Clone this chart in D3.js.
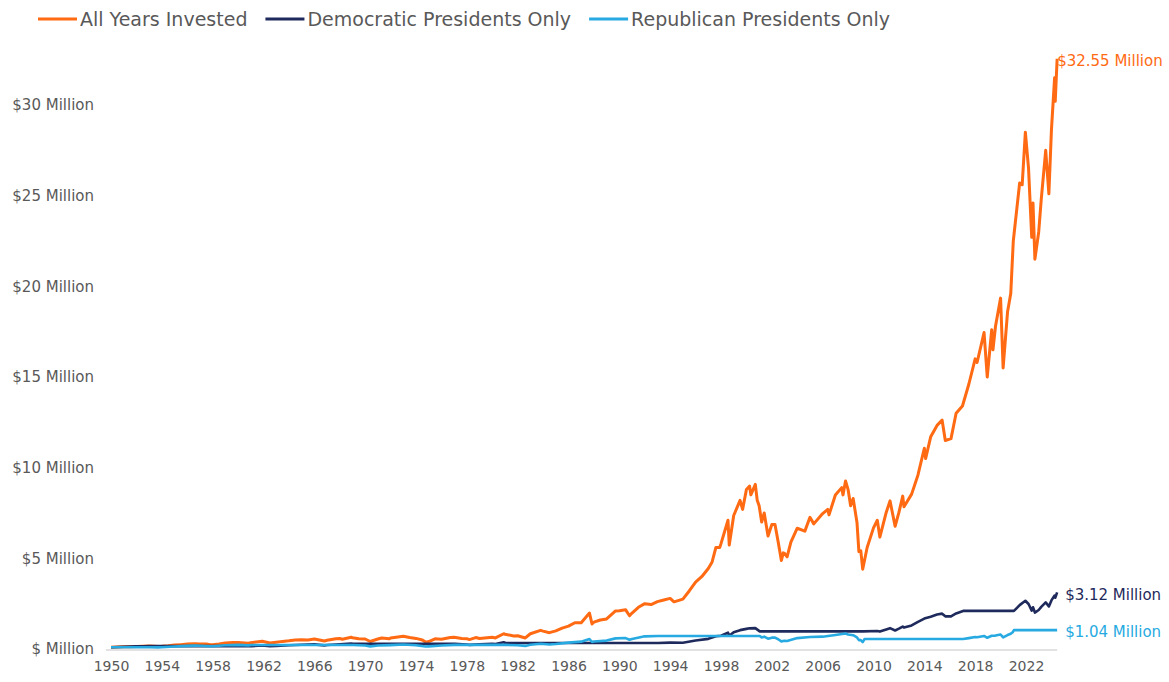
<!DOCTYPE html>
<html>
<head>
<meta charset="utf-8">
<script src="https://cdn.jsdelivr.net/npm/d3@7"></script>
<style>
  body { margin: 0; background: #fff; }
  text { font-family: "DejaVu Sans", sans-serif; }
</style>
</head>
<body>
<div id="chart"></div>
<script>
(function () {

/* data: [year, value in $ million] */
  var allYears = [
    [1950.0,0.10],[1950.5,0.11],[1951.0,0.122],[1951.5,0.13],[1952.0,0.143],[1952.5,0.15],[1953.0,0.159],[1953.7,0.138],
    [1954.0,0.148],[1954.5,0.175],[1955.0,0.215],[1955.5,0.24],[1956.0,0.272],[1956.6,0.296],[1957.0,0.28],[1957.5,0.28],
    [1957.8,0.24],[1958.0,0.239],[1958.5,0.28],[1959.0,0.331],[1959.6,0.36],[1960.0,0.359],[1960.8,0.32],[1961.0,0.348],
    [1961.9,0.431],[1962.5,0.328],[1963.0,0.378],[1963.5,0.42],[1964.0,0.45],[1964.5,0.49],[1965.0,0.508],[1965.5,0.5],
    [1966.0,0.553],[1966.8,0.443],[1967.0,0.481],[1967.7,0.57],[1968.0,0.578],[1968.2,0.54],[1968.9,0.647],[1969.0,0.622],
    [1969.5,0.56],[1970.0,0.551],[1970.4,0.415],[1971.0,0.552],[1971.3,0.61],[1971.9,0.56],[1972.0,0.611],[1973.0,0.707],
    [1973.5,0.63],[1974.0,0.584],[1974.5,0.5],[1974.75,0.38],[1975.0,0.41],[1975.5,0.56],[1976.0,0.54],[1976.7,0.63],
    [1977.0,0.644],[1977.6,0.58],[1978.0,0.569],[1978.2,0.52],[1978.7,0.63],[1979.0,0.575],[1979.8,0.64],[1980.0,0.646],
    [1980.25,0.61],[1980.9,0.84],[1981.0,0.813],[1981.7,0.72],[1982.0,0.734],[1982.6,0.61],[1983.0,0.842],[1983.8,1.03],
    [1984.0,0.987],[1984.5,0.9],[1985.0,1.0],[1985.5,1.15],[1986.0,1.265],[1986.5,1.45],[1987.0,1.45],[1987.65,1.98],
    [1987.85,1.38],[1988.0,1.48],[1988.5,1.6],[1989.0,1.66],[1989.7,2.1],[1990.0,2.11],[1990.5,2.16],[1990.8,1.83],
    [1991.0,1.98],[1991.5,2.3],[1992.0,2.5],[1992.5,2.45],[1993.0,2.61],[1993.5,2.7],[1994.0,2.79],[1994.3,2.6],
    [1995.0,2.75],[1995.5,3.2],[1996.0,3.69],[1996.5,4.0],[1997.0,4.44],[1997.3,4.8],[1997.6,5.6],[1997.9,5.6],
    [1998.0,5.81],[1998.55,7.1],[1998.65,5.73],[1999.0,7.36],[1999.5,8.2],[1999.7,7.7],[2000.0,8.8],[2000.25,8.98],
    [2000.35,8.5],[2000.7,9.08],[2000.85,8.2],[2001.0,7.9],[2001.2,7.0],[2001.4,7.5],[2001.7,6.23],[2002.0,6.87],
    [2002.25,6.87],[2002.5,5.9],[2002.75,4.88],[2002.9,5.3],[2003.0,5.27],[2003.2,5.08],[2003.5,5.9],[2004.0,6.66],
    [2004.6,6.5],[2005.0,7.26],[2005.3,6.9],[2006.0,7.47],[2006.4,7.7],[2006.5,7.4],[2007.0,8.49],[2007.5,8.9],
    [2007.6,8.5],[2007.8,9.27],[2008.0,8.79],[2008.2,7.9],[2008.4,8.3],[2008.7,6.98],[2008.85,5.37],[2009.0,5.41],
    [2009.15,4.4],[2009.5,5.6],[2010.0,6.68],[2010.3,7.1],[2010.5,6.17],[2011.0,7.53],[2011.3,8.17],[2011.7,6.77],
    [2012.0,7.53],[2012.3,8.43],[2012.4,7.84],[2013.0,8.54],[2013.5,9.6],[2014.0,11.07],[2014.1,10.5],[2014.5,11.7],
    [2015.0,12.33],[2015.4,12.62],[2015.65,11.5],[2016.1,11.6],[2016.5,13.0],[2017.0,13.4],[2017.5,14.6],[2018.0,16.0],
    [2018.15,15.8],[2018.7,17.45],[2018.95,15.0],[2019.3,17.6],[2019.4,16.5],[2019.6,17.8],[2020.0,19.35],[2020.2,15.5],
    [2020.55,18.6],[2020.8,19.6],[2021.0,22.5],[2021.5,25.7],[2021.7,25.6],[2021.95,28.5],[2022.2,26.5],[2022.45,22.7],
    [2022.55,24.6],[2022.7,21.5],[2023.0,23.0],[2023.2,24.8],[2023.55,27.5],[2023.8,25.1],[2024.0,28.6],[2024.25,31.5],
    [2024.3,30.2],[2024.45,32.55]
  ];

  var demOnly = [
    [1950.0,0.1],[1950.5,0.11],[1951.0,0.122],[1951.5,0.13],[1952.0,0.143],[1952.5,0.15],[1953.05,0.159],[1961.05,0.159],
    [1961.9,0.197],[1962.5,0.15],[1963.0,0.173],[1964.0,0.206],[1965.0,0.232],[1966.0,0.253],[1966.8,0.202],[1967.0,0.22],
    [1968.0,0.264],[1968.9,0.296],[1969.05,0.284],[1977.05,0.284],[1978.0,0.251],[1978.2,0.229],[1979.0,0.254],[1980.0,0.285],
    [1980.25,0.269],[1980.9,0.37],[1981.05,0.33],[1993.05,0.33],[1994.0,0.353],[1995.0,0.348],[1996.0,0.466],[1997.0,0.56],
    [1997.6,0.70],[1998.0,0.735],[1998.55,0.9],[1998.65,0.73],[1999.0,0.93],[1999.5,1.04],[2000.0,1.11],[2000.25,1.14],
    [2000.7,1.15],[2001.05,0.97],[2009.2,0.97],[2010.3,0.99],[2010.5,0.96],[2011.0,1.08],[2011.3,1.15],[2011.7,1.02],
    [2012.0,1.12],[2012.3,1.24],[2012.4,1.18],[2013.0,1.3],[2013.5,1.5],[2014.0,1.68],[2014.5,1.78],[2015.0,1.9],
    [2015.4,1.95],[2015.65,1.8],[2016.1,1.8],[2016.5,1.96],[2017.05,2.1],[2021.05,2.1],[2021.5,2.42],[2021.95,2.66],
    [2022.2,2.48],[2022.45,2.12],[2022.55,2.3],[2022.7,2.01],[2023.0,2.15],[2023.2,2.32],[2023.55,2.57],[2023.8,2.35],
    [2024.0,2.68],[2024.25,2.95],[2024.3,2.83],[2024.45,3.12]
  ];

  var repOnly = [
    [1950.0,0.1],[1953.05,0.1],[1953.7,0.087],[1954.0,0.093],[1955.0,0.135],[1956.0,0.171],[1956.6,0.186],[1957.0,0.176],
    [1957.8,0.151],[1958.0,0.15],[1959.0,0.208],[1960.0,0.226],[1960.8,0.201],[1961.05,0.219],[1969.05,0.219],[1970.0,0.194],
    [1970.4,0.146],[1971.0,0.194],[1972.0,0.215],[1973.0,0.249],[1974.0,0.206],[1974.75,0.134],[1975.0,0.144],[1976.0,0.19],
    [1977.05,0.227],[1981.05,0.227],[1982.0,0.205],[1982.6,0.17],[1983.0,0.235],[1983.8,0.288],[1984.5,0.251],[1985.0,0.279],
    [1986.0,0.353],[1987.0,0.405],[1987.65,0.553],[1987.85,0.385],[1988.0,0.413],[1989.0,0.464],[1989.7,0.586],[1990.5,0.603],
    [1990.8,0.511],[1991.0,0.553],[1992.0,0.698],[1993.05,0.72],[2001.05,0.72],[2001.2,0.64],[2001.4,0.68],[2001.7,0.568],
    [2002.0,0.626],[2002.25,0.626],[2002.5,0.54],[2002.75,0.42],[2003.0,0.45],[2003.2,0.44],[2004.0,0.6],[2005.0,0.66],
    [2006.0,0.68],[2007.0,0.77],[2007.8,0.85],[2008.0,0.80],[2008.4,0.76],[2008.7,0.64],[2008.85,0.49],[2009.0,0.49],
    [2009.15,0.38],[2009.3,0.55],[2017.05,0.55],[2017.5,0.6],[2018.0,0.66],[2018.15,0.65],[2018.7,0.72],[2018.95,0.62],
    [2019.3,0.73],[2019.6,0.74],[2020.0,0.8],[2020.2,0.64],[2020.55,0.77],[2020.8,0.84],[2020.95,0.92],[2021.05,1.04],
    [2024.45,1.04]
  ];

  var seriesNames = ["All Years Invested", "Democratic Presidents Only", "Republican Presidents Only"];
  var endLabels = ["$32.55 Million", "$3.12 Million", "$1.04 Million"];
  var yearTicks = d3.range(1950, 2023, 4);
  var valueTicks = [0, 5, 10, 15, 20, 25, 30];
  var valueTickLabels = ["$ Million", "$5 Million", "$10 Million", "$15 Million", "$20 Million", "$25 Million", "$30 Million"];

/* preperation */
  var width = 1169,
      height = 682;

  var colors = ["#ff6a13", "#1f2a5c", "#27aae1"];
  var textColor = "#595959";

  var svg = d3.select("#chart")
    .append("svg")
    .attr("width", width)
    .attr("height", height)

  //scales
  var x = d3.scaleLinear().domain([1950, 2022]).range([111, 1026])
  var y = d3.scaleLinear().domain([0, 30]).range([649, 105])

  var line = d3.line()
    .x(function (d) { return x(d[0]) })
    .y(function (d) { return y(d[1]) })

  var series = [allYears, demOnly, repOnly].map(function (values, i) {
    return { name: seriesNames[i], values: values, color: colors[i], label: endLabels[i] }
  })

  //baseline
  svg.append("line")
    .attr("x1", x(1949.6))
    .attr("x2", x(2024.45))
    .attr("y1", y(0) + 1)
    .attr("y2", y(0) + 1)
    .attr("stroke", "#d9d9d9")
    .attr("stroke-width", 1.5)

  //y axis, labels only
  var yAxis = d3.axisLeft(y)
    .tickValues(valueTicks)
    .tickSize(0)
    .tickPadding(0)
    .tickFormat(function (d, i) { return valueTickLabels[i] })

  svg.append("g")
    .attr("transform", "translate(94,0)")
    .call(yAxis)
    .call(function (g) { g.select(".domain").remove() })
    .selectAll("text")
    .attr("fill", textColor)
    .style("font-size", "15px")
    .style("font-family", "'DejaVu Sans', sans-serif")

  //x axis, labels only
  var xAxis = d3.axisBottom(x)
    .tickValues(yearTicks)
    .tickSize(0)
    .tickPadding(0)
    .tickFormat(d3.format("d"))

  svg.append("g")
    .attr("transform", "translate(0,661)")
    .call(xAxis)
    .call(function (g) { g.select(".domain").remove() })
    .selectAll("text")
    .attr("fill", textColor)
    .style("font-size", "14px")
    .style("font-family", "'DejaVu Sans', sans-serif")

  //lines
  svg.selectAll(".series")
    .data(series)
    .enter().append("path")
    .attr("class", "series")
    .attr("d", function (d) { return line(d.values) })
    .attr("fill", "none")
    .attr("stroke", function (d) { return d.color })
    .attr("stroke-width", function (d, i) { return i === 0 ? 3 : 2.6 })
    .attr("stroke-linejoin", "round")

  //end labels
  svg.selectAll(".end-label")
    .data(series)
    .enter().append("text")
    .attr("class", "end-label")
    .attr("x", function (d, i) {
      var last = d.values[d.values.length - 1]
      return x(last[0]) + (i === 0 ? 0 : 8)
    })
    .attr("y", function (d) {
      var last = d.values[d.values.length - 1]
      return y(last[1]) + 2
    })
    .attr("dy", "0.35em")
    .attr("fill", function (d) { return d.color })
    .style("font-size", "15px")
    .text(function (d) { return d.label })

  //legend
  var legend = svg.append("g").attr("transform", "translate(38,19)")
  var lx = 0
  series.forEach(function (d) {
    var item = legend.append("g").attr("transform", "translate(" + lx + ",0)")
    item.append("line")
      .attr("x1", 0).attr("x2", 39)
      .attr("stroke", d.color)
      .attr("stroke-width", 3)
    var t = item.append("text")
      .attr("x", 42)
      .attr("dy", "0.35em")
      .attr("fill", textColor)
      .style("font-size", "19px")
      .text(d.name)
    lx += 42 + t.node().getComputedTextLength() + 18
  })

})()
</script>
</body>
</html>
